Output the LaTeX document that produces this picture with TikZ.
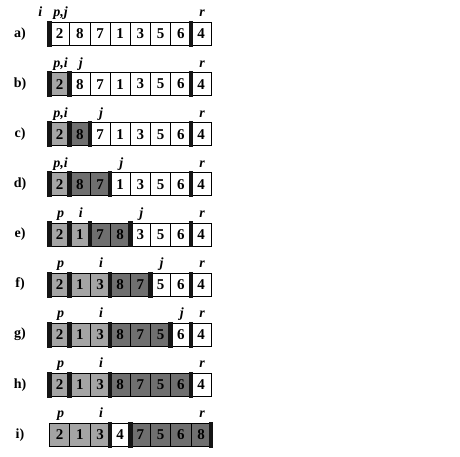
\documentclass[tikz,border=0pt]{standalone}
\usepackage{fontspec}
\setmainfont{Liberation Serif}
\usepackage{xcolor}
\usetikzlibrary{positioning}
\definecolor{lowpart}{HTML}{A4A4A4}
\definecolor{highpart}{HTML}{6F6F6F}
\definecolor{barblack}{HTML}{141414}

\begin{document}
\begin{tikzpicture}[x=1pt,y=-1pt,font=\bfseries\fontsize{15}{17}\selectfont]
\tikzset{cell/.style={draw,line width=0.7pt,minimum width=20.2pt,minimum height=23pt,inner sep=0pt},
  bar/.style={fill=barblack},
  idx/.style={font=\bfseries\itshape\fontsize{14}{16}\selectfont,inner sep=0pt,anchor=base},
  rowlbl/.style={font=\bfseries\fontsize{14}{16}\selectfont,inner sep=0pt}}
\useasboundingbox (0,0) rectangle (460,457);
\foreach \row/\cells/\bars/\labs [count=\k from 0] in {
  a/{2/white,8/white,7/white,1/white,3/white,5/white,6/white,4/white}/{0,7}/{-1/i,0/{p,j},7/r},
  b/{2/lowpart,8/white,7/white,1/white,3/white,5/white,6/white,4/white}/{0,1,7}/{0/{p,i},1/j,7/r},
  c/{2/lowpart,8/highpart,7/white,1/white,3/white,5/white,6/white,4/white}/{0,1,2,7}/{0/{p,i},2/j,7/r},
  d/{2/lowpart,8/highpart,7/highpart,1/white,3/white,5/white,6/white,4/white}/{0,1,3,7}/{0/{p,i},3/j,7/r},
  e/{2/lowpart,1/lowpart,7/highpart,8/highpart,3/white,5/white,6/white,4/white}/{0,1,2,4,7}/{0/p,1/i,4/j,7/r},
  f/{2/lowpart,1/lowpart,3/lowpart,8/highpart,7/highpart,5/white,6/white,4/white}/{0,1,3,5,7}/{0/p,2/i,5/j,7/r},
  g/{2/lowpart,1/lowpart,3/lowpart,8/highpart,7/highpart,5/highpart,6/white,4/white}/{0,1,3,6,7}/{0/p,2/i,6/j,7/r},
  h/{2/lowpart,1/lowpart,3/lowpart,8/highpart,7/highpart,5/highpart,6/highpart,4/white}/{0,1,3,7}/{0/p,2/i,7/r},
  i/{2/lowpart,1/lowpart,3/lowpart,4/white,7/highpart,5/highpart,6/highpart,8/highpart}/{3,4,8}/{0/p,2/i,7/r}}{
  \pgfmathsetmacro{\yc}{34+50.1*\k}
  \node[rowlbl] (\row lbl) at (20,\yc) {\row)};
  % the array cells
  \foreach \v/\s [count=\n from 0] in \cells
    \node[cell,fill=\s] (\row\n) at ({49.5+20.2*(\n+0.5)},\yc) {\v};
  % partition boundaries
  \foreach \b in \bars
    \fill[bar] ({49.5+20.2*\b-2.3},\yc-13) rectangle ++(4.6,26);
  % index names
  \foreach \c/\t in \labs
    \node[idx] (\row idx\c) at ({49.5+20.2*(\c+0.5)+1},\yc-17) {\t};
}
\end{tikzpicture}
\end{document}
